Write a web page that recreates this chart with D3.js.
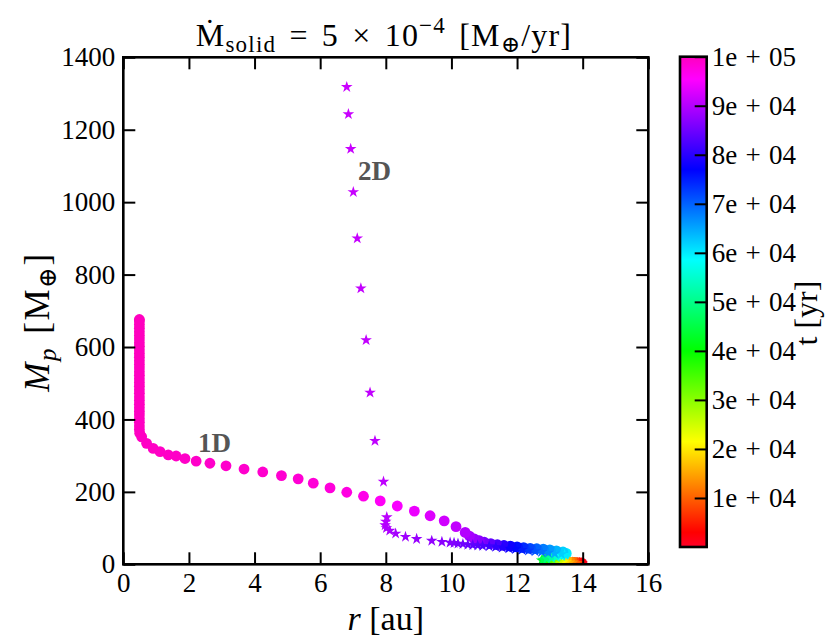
<!DOCTYPE html>
<html><head><meta charset="utf-8">
<script src="https://cdn.jsdelivr.net/npm/d3@7"></script>
<style>
body{margin:0;background:#fff}
svg text{font-family:"Liberation Serif","Times New Roman",Times,"DejaVu Serif",serif !important;fill:#000}
</style>
</head><body>
<svg id="c" width="833" height="637"></svg>
<script>
// ---------- data ----------
const xTicks = [0, 2, 4, 6, 8, 10, 12, 14, 16];
const yTicks = [0, 200, 400, 600, 800, 1000, 1200, 1400];
const cbTicks = [10000, 20000, 30000, 40000, 50000, 60000, 70000, 80000, 90000, 100000];
const cbLabels = ["1e + 04", "2e + 04", "3e + 04", "4e + 04", "5e + 04", "6e + 04", "7e + 04", "8e + 04", "9e + 04", "1e + 05"];
// gist_rainbow colormap
const cmapStops = [0.000, 0.030, 0.215, 0.400, 0.586, 0.770, 0.954, 1.000];
const cmapColors = ["rgb(255,0,41)", "rgb(255,0,0)", "rgb(255,255,0)", "rgb(0,255,0)", "rgb(0,255,255)", "rgb(0,0,255)", "rgb(255,0,255)", "rgb(255,0,191)"];

// 1D run (circles): radius [au], mass [M_earth], time [yr]
const r1D = [13.98, 13.95, 13.9, 13.85, 13.8, 13.75, 13.7, 13.6, 13.55, 13.5, 13.45, 13.4, 13.3, 13.2, 13.1, 13.0, 12.95, 12.9, 12.85, 12.9,
  13.0, 13.15, 13.3, 13.45, 13.5, 13.4, 13.2, 13.0, 12.8, 12.6, 12.4, 12.2, 12.0, 11.8, 11.6, 11.4, 11.2, 11.0, 10.85, 10.7,
  10.55, 10.42, 10.14, 9.78, 9.35, 8.87, 8.35, 7.83, 7.32, 6.81, 6.30, 5.79, 5.33, 4.82, 4.25, 3.68, 3.13, 2.64, 2.22, 1.88,
  1.61, 1.37, 1.12, 0.91, 0.71, 0.56, 0.50,
  0.49, 0.49, 0.49, 0.49, 0.49, 0.49, 0.49, 0.49, 0.49, 0.49, 0.49, 0.49, 0.49, 0.49, 0.49, 0.49,
  0.49, 0.49, 0.49, 0.49, 0.49, 0.49, 0.49, 0.49, 0.49, 0.49, 0.49, 0.49, 0.49, 0.49, 0.49, 0.49];
const m1D = [3, 3, 4, 4, 4, 5, 5, 5, 6, 6, 6, 7, 7, 8, 8, 9, 10, 11, 12, 14,
  16, 19, 22, 26, 30, 34, 37, 40, 42, 43, 44, 46, 48, 50, 52, 54, 57, 61, 65, 70,
  78, 88, 104, 120, 134, 147, 161, 175, 188, 199, 211, 224, 236, 245, 255, 263, 272, 279, 285, 292,
  299, 302, 311, 320, 334, 352, 362,
  372, 382, 392, 402, 412, 422, 432, 442, 452, 462, 472, 482, 492, 502, 512, 522,
  532, 542, 552, 562, 572, 582, 592, 602, 612, 622, 632, 642, 652, 662, 672, 676];
const t1D = [0, 2000, 4000, 6000, 8000, 10000, 12000, 14000, 16000, 18000, 20000, 22000, 25000, 28000, 31000, 34000, 37000, 40000, 43000, 46000,
  49000, 52000, 55000, 58000, 60000, 62000, 64000, 66000, 68000, 70000, 72000, 74000, 76000, 78000, 80000, 82000, 84000, 85500, 87000, 88000,
  89000, 90000, 91000, 92000, 93000, 94000, 95000, 96000, 97000, 97500, 98000, 98300, 98500, 98700, 98900, 99000, 99100, 99200, 99300, 99350,
  99400, 99450, 99500, 99550, 99600, 99650, 99700,
  99710, 99720, 99730, 99740, 99750, 99760, 99770, 99780, 99790, 99800, 99810, 99820, 99830, 99840, 99850, 99860,
  99870, 99880, 99890, 99900, 99910, 99920, 99930, 99940, 99950, 99960, 99970, 99980, 99990, 99995, 99998, 100000];

// 2D run (stars)
const r2D = [13.98, 13.95, 13.9, 13.85, 13.8, 13.7, 13.6, 13.5, 13.4, 13.3, 13.2, 13.1, 13.0, 12.9, 12.8, 12.75, 12.8, 12.9, 13.05, 13.2,
  13.35, 13.45, 13.35, 13.15, 12.95, 12.75, 12.55, 12.35, 12.15, 11.95, 11.75, 11.55, 11.35, 11.15, 10.95, 10.8, 10.65, 10.5, 10.35, 10.2,
  10.08, 9.96, 9.71, 9.40, 8.94, 8.60, 8.30, 8.12, 8.02, 7.98, 8.0, 8.03, 7.93, 7.67, 7.52, 7.40, 7.24, 7.13, 7.01, 6.93,
  6.86, 6.81];
const m2D = [3, 3, 4, 4, 4, 5, 5, 6, 6, 7, 7, 8, 8, 9, 10, 11, 13, 15, 17, 20,
  23, 26, 28, 30, 32, 34, 36, 38, 40, 42, 44, 46, 48, 50, 51, 52, 53, 54, 56, 57,
  59, 60, 62, 65, 70, 76, 85, 93, 100, 108, 118, 130, 228, 341, 474, 619, 762, 900, 1028, 1147,
  1243, 1318];
const t2D = [0, 2500, 5000, 7500, 10000, 13000, 16000, 19000, 22000, 25000, 28000, 31000, 34000, 37000, 40000, 43000, 46000, 49000, 52000, 55000,
  58000, 60000, 62000, 64500, 67000, 69000, 71000, 73000, 75000, 76500, 78000, 79500, 80500, 81500, 82500, 83200, 83800, 84400, 85000, 85500,
  86000, 86500, 87000, 87500, 88000, 88500, 89000, 89300, 89600, 89900, 90200, 90500, 90700, 90800, 90900, 91000, 91100, 91200, 91300, 91400,
  91500, 91600];

// ---------- layout ----------
const svg = d3.select("#c");
const L = 123.3, R = 648.3, T = 57.3, B = 564.3;
const x = d3.scaleLinear().domain([0, 16]).range([L, R]);
const y = d3.scaleLinear().domain([0, 1400]).range([B, T]);
const tMax = 100000;
const cmap = d3.scaleLinear().domain(cmapStops).range(cmapColors).interpolate(d3.interpolateRgb).clamp(true);

svg.append("rect").attr("width", 833).attr("height", 637).attr("fill", "#fff");

svg.append("defs").append("clipPath").attr("id", "clip")
  .append("rect").attr("x", L).attr("y", T).attr("width", R - L).attr("height", B - T);

const plot = svg.append("g").attr("clip-path", "url(#clip)");

const d1 = r1D.map((r, i) => ({r, m: m1D[i], t: t1D[i]}));
const d2 = r2D.map((r, i) => ({r, m: m2D[i], t: t2D[i]}));

plot.selectAll("circle.p1").data(d1).join("circle")
  .attr("class", "p1")
  .attr("cx", d => x(d.r)).attr("cy", d => y(d.m)).attr("r", 5.4)
  .attr("fill", d => cmap(d.t / tMax));

const star = d3.symbol().type(d3.symbolStar).size(42);
plot.selectAll("path.p2").data(d2).join("path")
  .attr("class", "p2")
  .attr("d", star)
  .attr("transform", d => `translate(${x(d.r)},${y(d.m)})`)
  .attr("fill", d => cmap(d.t / tMax));

// annotations
svg.append("text").attr("x", x(2.28)).attr("y", y(310))
  .attr("font-size", 27).attr("font-weight", "bold").style("fill", "#555").text("1D");
svg.append("text").attr("x", x(7.15)).attr("y", y(1062))
  .attr("font-size", 27).attr("font-weight", "bold").style("fill", "#555").text("2D");

// axes
const fmt = d3.format("d");
function styleAxis(g) {
  g.attr("font-family", null);
  g.select(".domain").remove();
  g.selectAll(".tick line").attr("stroke", "#000").attr("stroke-width", 2);
  g.selectAll(".tick text").attr("font-size", 27).attr("fill", "#000");
}
svg.append("g").attr("transform", `translate(0,${B})`)
  .call(d3.axisBottom(x).tickValues(xTicks).tickFormat(fmt).tickSizeInner(-12).tickSizeOuter(0).tickPadding(9))
  .call(styleAxis);
svg.append("g").attr("transform", `translate(0,${T})`)
  .call(d3.axisTop(x).tickValues(xTicks).tickFormat("").tickSizeInner(-12).tickSizeOuter(0))
  .call(styleAxis);
svg.append("g").attr("transform", `translate(${L},0)`)
  .call(d3.axisLeft(y).tickValues(yTicks).tickFormat(fmt).tickSizeInner(-12).tickSizeOuter(0).tickPadding(8))
  .call(styleAxis);
svg.append("g").attr("transform", `translate(${R},0)`)
  .call(d3.axisRight(y).tickValues(yTicks).tickFormat("").tickSizeInner(-12).tickSizeOuter(0))
  .call(styleAxis);

svg.append("rect").attr("x", L).attr("y", T).attr("width", R - L).attr("height", B - T)
  .attr("fill", "none").attr("stroke", "#000").attr("stroke-width", 2.6);

// axis labels
const xl = svg.append("text").attr("x", (L + R) / 2).attr("y", 630).attr("text-anchor", "middle").attr("font-size", 34);
xl.append("tspan").attr("font-style", "italic").text("r");
xl.append("tspan").text(" [au]");

const yl = svg.append("text").attr("transform", "translate(49,322) rotate(-90)").attr("text-anchor", "middle")
  .attr("font-size", 35).attr("letter-spacing", 1.5).attr("word-spacing", 3);
yl.append("tspan").attr("font-style", "italic").text("M");
yl.append("tspan").attr("font-style", "italic").attr("font-size", 25).attr("dy", 7).text("p");
yl.append("tspan").attr("dy", -7).text(" [M");
yl.append("tspan").attr("font-size", 25).attr("dy", 7).text("⊕");
yl.append("tspan").attr("dy", -7).text("]");

// title
const tt = svg.append("text").attr("x", 384).attr("y", 46).attr("text-anchor", "middle")
  .attr("font-size", 32).attr("letter-spacing", 1.2).attr("word-spacing", 4);
tt.append("tspan").text("Ṁ");
tt.append("tspan").attr("font-size", 23).attr("dy", 6).text("solid");
tt.append("tspan").attr("dy", -6).text(" = 5 × 10");
tt.append("tspan").attr("font-size", 23).attr("dy", -13).text("−4");
tt.append("tspan").attr("dy", 13).text(" [M");
tt.append("tspan").attr("font-size", 23).attr("dy", 6).text("⊕");
tt.append("tspan").attr("dy", -6).text("/yr]");

// colorbar
const cbL = 680, cbR = 706.7, cbT = 56.7, cbB = 547;
const cy = d3.scaleLinear().domain([0, tMax]).range([cbB, cbT]);
const grad = svg.select("defs").append("linearGradient").attr("id", "cbgrad")
  .attr("x1", 0).attr("y1", 1).attr("x2", 0).attr("y2", 0);
cmapStops.forEach((s, i) => grad.append("stop").attr("offset", s).attr("stop-color", cmapColors[i]));
svg.append("rect").attr("x", cbL).attr("y", cbT).attr("width", cbR - cbL).attr("height", cbB - cbT)
  .attr("fill", "url(#cbgrad)");
const cbAxis = svg.append("g").attr("transform", `translate(${cbR},0)`)
  .call(d3.axisRight(cy).tickValues(cbTicks).tickFormat((d, i) => cbLabels[i]).tickSizeInner(-12).tickSizeOuter(0).tickPadding(5))
  .call(styleAxis);
cbAxis.selectAll(".tick text").attr("font-size", 27).attr("word-spacing", 1.5);
svg.append("rect").attr("x", cbL).attr("y", cbT).attr("width", cbR - cbL).attr("height", cbB - cbT)
  .attr("fill", "none").attr("stroke", "#000").attr("stroke-width", 2.6);

const cl = svg.append("text").attr("transform", "translate(817,313) rotate(-90)").attr("text-anchor", "middle").attr("font-size", 32);
cl.text("t [yr]");
</script>
</body></html>
